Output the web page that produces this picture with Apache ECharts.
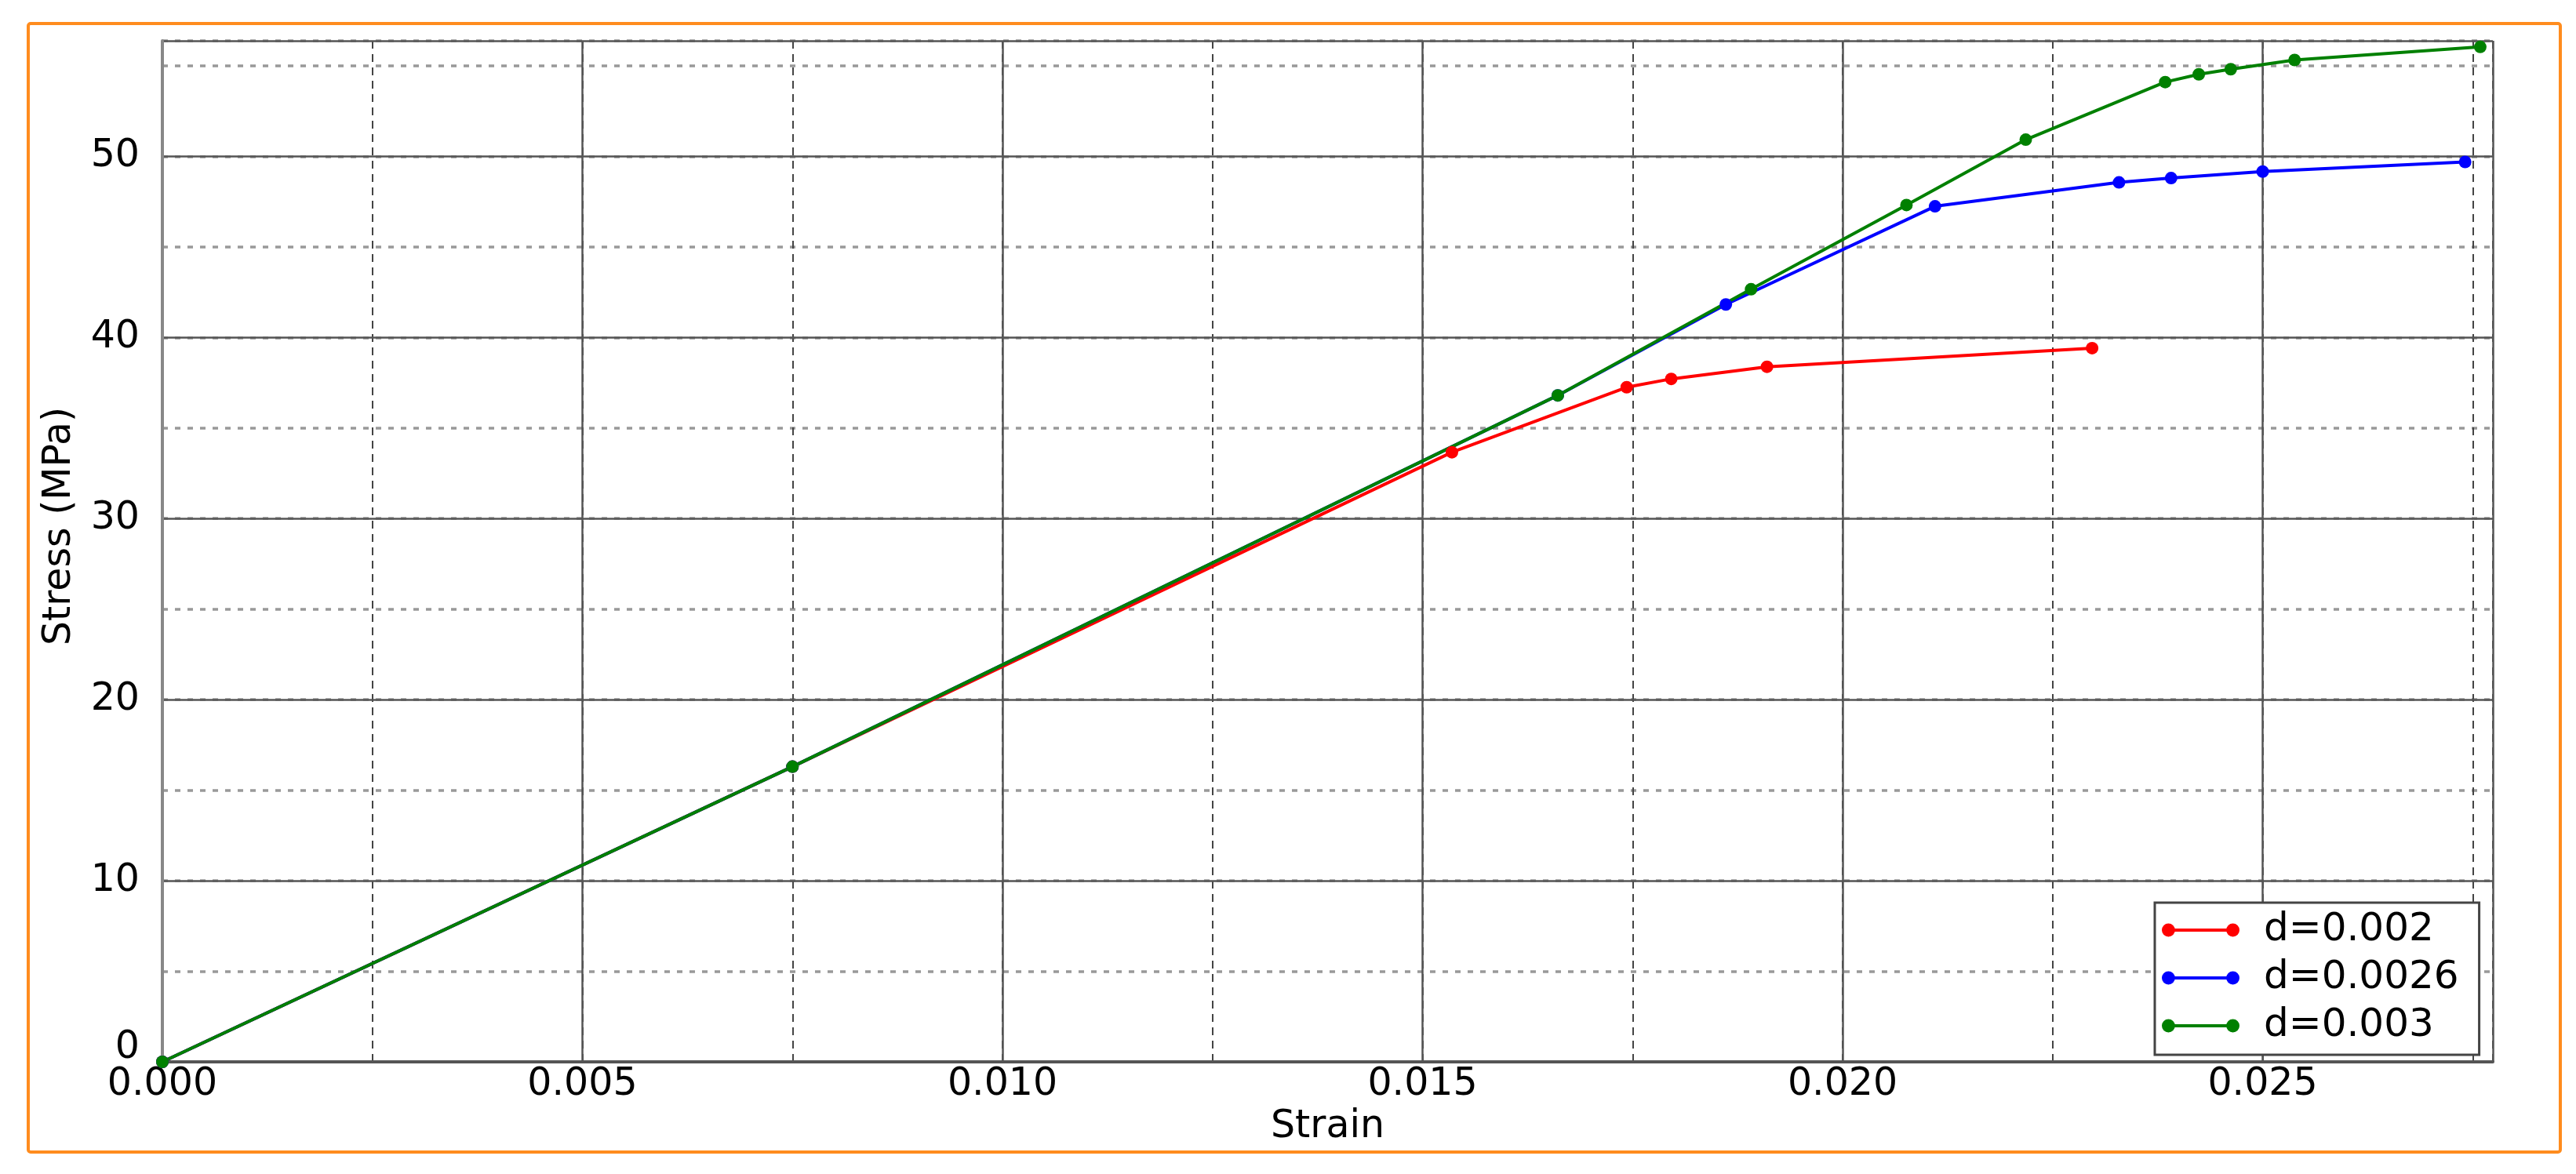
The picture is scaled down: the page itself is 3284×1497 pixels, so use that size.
<!DOCTYPE html>
<html>
<head>
<meta charset="utf-8">
<title>Stress - Strain</title>
<script src="https://cdn.jsdelivr.net/npm/echarts@6/dist/echarts.min.js"></script>
<style>
  html, body { margin: 0; padding: 0; background: #fff; }
  #chart { width: 3284px; height: 1497px; }
</style>
</head>
<body>
<div id="chart"></div>
<script>
// values
const seriesNames = ['d=0.002', 'd=0.0026', 'd=0.003'];
const seriesColors = ['#ff0000', '#0000ff', '#008000'];

const strainD002 = [0, 0.0075, 0.01535, 0.01743, 0.01796, 0.01910, 0.02297];
const stressD002 = [0, 16.3, 33.66, 37.25, 37.71, 38.38, 39.41];

const strainD0026 = [0, 0.0075, 0.01661, 0.01861, 0.02110, 0.02329, 0.02391, 0.02500, 0.02741];
const stressD0026 = [0, 16.3, 36.8, 41.82, 47.24, 48.56, 48.80, 49.16, 49.69];

const strainD003 = [0, 0.0075, 0.01661, 0.01891, 0.02076, 0.02218, 0.02384, 0.02424, 0.02462, 0.02538, 0.02759];
const stressD003 = [0, 16.3, 36.8, 42.66, 47.31, 50.92, 54.10, 54.53, 54.81, 55.32, 56.04];

const strainMax = 0.02774;
const stressMax = 56.38;
const strainMajor = 0.005;
const strainMinor = 0.0025;
const stressMajor = 10;
const stressMinor = 5;

const FONT = 'DejaVu Sans';

const zip = (xs, ys) => xs.map((x, i) => [x, ys[i]]);
const allStrain = [strainD002, strainD0026, strainD003];
const allStress = [stressD002, stressD0026, stressD003];

// line with a dot at each end (sub-paths kept apart so nothing cancels out)
const legendIcon = 'path://M0,10a8.5,8.5 0 1,0 17,0a8.5,8.5 0 1,0 -17,0Z' +
  'M83,10a8.5,8.5 0 1,0 17,0a8.5,8.5 0 1,0 -17,0ZM16.5,8V12H83.5V8Z';

const chart = echarts.init(document.getElementById('chart'));

const hiddenParts = {
  axisLine: { show: false },
  axisTick: { show: false },
  axisLabel: { show: false }
};

const option = {
  animation: false,
  backgroundColor: '#fff',
  textStyle: { fontFamily: FONT },
  graphic: [{
    type: 'rect',
    shape: { x: 36, y: 30, width: 3228, height: 1439, r: 3 },
    style: { fill: 'none', stroke: '#ff8c1e', lineWidth: 4 },
    silent: true
  }],
  grid: { left: 207, right: 106, top: 52, bottom: 143 },
  legend: {
    data: seriesNames,
    orient: 'vertical',
    left: 2747,
    top: 1151,
    icon: legendIcon,
    symbolKeepAspect: false,
    itemWidth: 99,
    itemHeight: 17,
    itemGap: 11,
    padding: [10, 26, 12, 9],
    backgroundColor: '#fff',
    borderColor: '#444',
    borderWidth: 3,
    textStyle: { fontFamily: FONT, fontSize: 50, lineHeight: 50, color: '#000', padding: [0, 0, 0, 26] }
  },
  xAxis: [
    {
      type: 'value',
      min: 0,
      max: strainMax,
      interval: strainMajor,
      z: 1,
      name: 'Strain',
      nameLocation: 'middle',
      nameGap: 58,
      nameTextStyle: { fontFamily: FONT, fontSize: 49, color: '#000' },
      axisLine: { show: true, lineStyle: { color: '#555', width: 4 } },
      axisTick: { show: false },
      axisLabel: {
        fontFamily: FONT, fontSize: 49, color: '#000', margin: 5,
        showMaxLabel: false,
        formatter: v => v.toFixed(3)
      },
      splitLine: { show: true, lineStyle: { color: '#555', width: 2.5, type: 'solid' } }
    },
    {
      type: 'value',
      min: 0,
      max: strainMax,
      interval: strainMinor,
      position: 'bottom',
      z: 0,
      ...hiddenParts,
      splitLine: { show: true, lineStyle: { color: '#444', width: 2, type: [10, 7] } }
    }
  ],
  yAxis: [
    {
      type: 'value',
      min: 0,
      max: stressMax,
      interval: stressMajor,
      z: 1,
      name: 'Stress (MPa)',
      nameLocation: 'middle',
      nameGap: 106,
      nameTextStyle: { fontFamily: FONT, fontSize: 49, color: '#000', padding: [0, 0, 0, 64] },
      axisLine: { show: true, lineStyle: { color: '#888', width: 4 } },
      axisTick: { show: false },
      axisLabel: {
        fontFamily: FONT, fontSize: 49, color: '#000', margin: 29,
        showMaxLabel: false,
        formatter: v => (v === 0 ? '{z|0}' : String(v)),
        rich: { z: { fontFamily: FONT, fontSize: 49, color: '#000', padding: [0, 0, 36, 0] } }
      },
      splitLine: { show: true, lineStyle: { color: '#555', width: 2.5, type: 'solid' } }
    },
    {
      type: 'value',
      min: 0,
      max: stressMax,
      interval: stressMinor,
      position: 'left',
      z: 0,
      ...hiddenParts,
      splitLine: { show: true, lineStyle: { color: '#999', width: 3.5, type: [7, 9] } }
    }
  ],
  series: seriesNames.map((name, i) => ({
    name: name,
    type: 'line',
    xAxisIndex: 0,
    yAxisIndex: 0,
    symbol: 'circle',
    symbolSize: 16,
    showAllSymbol: true,
    color: seriesColors[i],
    lineStyle: { color: seriesColors[i], width: 4 },
    itemStyle: { color: seriesColors[i] },
    data: zip(allStrain[i], allStress[i])
  }))
};

chart.setOption(option);
</script>
</body>
</html>
